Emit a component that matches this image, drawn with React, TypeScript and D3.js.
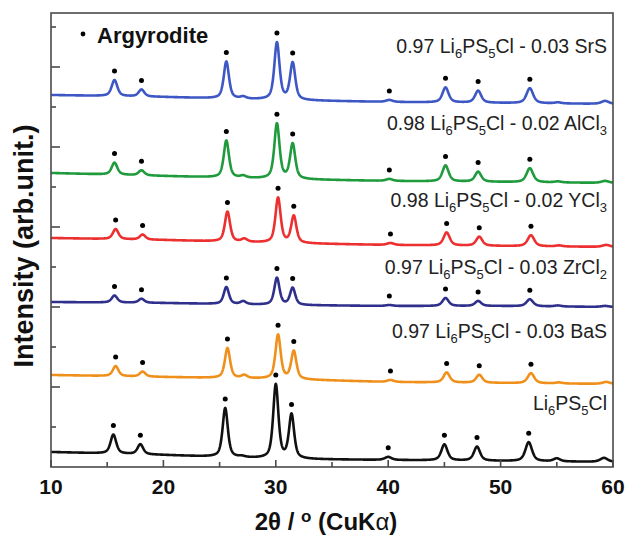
import React from "react";
import * as d3 from "d3";

const W = 627;
const H = 537;
const PLOT = { left: 51, right: 613, top: 13, bottom: 467 };

const xMajorTicks = [10, 20, 30, 40, 50, 60];
const xMinorTicks = [15, 25, 35, 45, 55];
const yTicks = [40, 80, 120, 160, 200, 240, 280, 320, 360, 400, 440];

// Reflection positions (2θ) and widths (FWHM, °)
const peakPositions = [15.55, 17.95, 25.5, 27.0, 30.0, 31.4, 40.0, 45.0, 47.9, 52.5, 55.0, 59.2];
const peakWidths = [0.6, 0.6, 0.55, 0.6, 0.55, 0.55, 0.7, 0.65, 0.65, 0.7, 0.7, 0.8];
const argyroditePeaks = [15.55, 17.95, 25.5, 30.0, 31.4, 40.0, 45.0, 47.9, 52.5];

// Background anchors
const baselineX = [10, 20, 30, 40, 50, 60];

const seriesNames = ["SrS", "AlCl3", "YCl3", "ZrCl2", "BaS", "pure"];
const seriesColors = ["#3d57c4", "#1f9a3c", "#ec2f2f", "#2f2f8c", "#f0901c", "#111111"];
const seriesShift = [0.1, 0.1, 0.2, 0.1, 0.2, 0.0];

const baselineSrS = [372, 370, 367, 365, 364, 363];
const baselineAlCl3 = [294, 291, 288, 286, 285, 284];
const baselineYCl3 = [229, 227, 224, 222, 221, 220];
const baselineZrCl2 = [165, 164, 162, 161, 161, 160];
const baselineBaS = [92, 90, 88, 85, 84, 83];
const baselinePure = [15, 12, 8, 7, 6, 5];

const heightsSrS = [16, 7, 37, 2, 57, 37, 2, 15, 12, 15, 1, 3];
const heightsAlCl3 = [12, 5, 37, 2, 55, 35, 2, 16, 10, 14, 1, 2];
const heightsYCl3 = [10, 5, 30, 3, 45, 27, 2, 13, 9, 11, 1, 2];
const heightsZrCl2 = [7, 4, 17, 3, 27, 17, 1, 8, 5, 7, 1, 1];
const heightsBaS = [10, 5, 30, 3, 44, 28, 2, 10, 8, 10, 1, 2];
const heightsPure = [19, 10, 49, 1, 74, 44, 3, 16, 14, 19, 3, 4];

const baselines = [baselineSrS, baselineAlCl3, baselineYCl3, baselineZrCl2, baselineBaS, baselinePure];
const heights = [heightsSrS, heightsAlCl3, heightsYCl3, heightsZrCl2, heightsBaS, heightsPure];

type LabelPart = { t: string; sub?: boolean };
const labelParts: LabelPart[][] = [
  [{ t: "0.97 Li" }, { t: "6", sub: true }, { t: "PS" }, { t: "5", sub: true }, { t: "Cl - 0.03 SrS" }],
  [{ t: "0.98 Li" }, { t: "6", sub: true }, { t: "PS" }, { t: "5", sub: true }, { t: "Cl - 0.02 AlCl" }, { t: "3", sub: true }],
  [{ t: "0.98 Li" }, { t: "6", sub: true }, { t: "PS" }, { t: "5", sub: true }, { t: "Cl - 0.02 YCl" }, { t: "3", sub: true }],
  [{ t: "0.97 Li" }, { t: "6", sub: true }, { t: "PS" }, { t: "5", sub: true }, { t: "Cl - 0.03 ZrCl" }, { t: "2", sub: true }],
  [{ t: "0.97 Li" }, { t: "6", sub: true }, { t: "PS" }, { t: "5", sub: true }, { t: "Cl - 0.03 BaS" }],
  [{ t: "Li" }, { t: "6", sub: true }, { t: "PS" }, { t: "5", sub: true }, { t: "Cl" }],
];
const labelY = [53, 130, 207, 274, 338, 410];

const FONT = "'Liberation Sans', Arial, Helvetica, sans-serif";

function profile(x: number, c: number, fwhm: number) {
  const hw = fwhm / 2;
  const d = x - c;
  const L = 1 / (1 + (d / hw) * (d / hw));
  const G = Math.exp(-Math.LN2 * (d / hw) * (d / hw));
  return 0.6 * L + 0.4 * G;
}

export default function App() {
  const x = d3.scaleLinear().domain([10, 60]).range([PLOT.left, PLOT.right]);
  const y = d3.scaleLinear().domain([0, PLOT.bottom - PLOT.top]).range([PLOT.bottom, PLOT.top]);
  const xs = d3.range(10, 60.0001, 0.02);

  const curves = seriesNames.map((_, si) => {
    const bg = d3.scaleLinear().domain(baselineX).range(baselines[si]).clamp(true);
    const f = (t: number) => {
      let v = bg(t);
      peakPositions.forEach((p, pi) => {
        v += heights[si][pi] * profile(t, p + seriesShift[si], peakWidths[pi]);
      });
      return v;
    };
    return f;
  });

  const line = d3.line<[number, number]>().x((d) => x(d[0])).y((d) => y(d[1]));

  return (
    <svg width={W} height={H} style={{ display: "block", position: "absolute", left: 0, top: 0 }}>
      <rect x={0} y={0} width={W} height={H} fill="#fff" />
      <defs>
        <clipPath id="clip">
          <rect x={PLOT.left} y={PLOT.top} width={PLOT.right - PLOT.left} height={PLOT.bottom - PLOT.top} />
        </clipPath>
      </defs>
      <g clipPath="url(#clip)">
        {curves.map((f, si) => (
          <path
            key={si}
            d={line(xs.map((t) => [t, f(t)] as [number, number])) || ""}
            fill="none"
            stroke={seriesColors[si]}
            strokeWidth={2.6}
            strokeLinejoin="round"
          />
        ))}
        {curves.map((f, si) =>
          argyroditePeaks.map((p, pi) => {
            const px = p + seriesShift[si];
            return <circle key={si + "-" + pi} cx={x(px)} cy={y(f(px)) - 9} r={2.5} fill="#000" />;
          })
        )}
      </g>
      {/* frame */}
      <rect
        x={PLOT.left}
        y={PLOT.top}
        width={PLOT.right - PLOT.left}
        height={PLOT.bottom - PLOT.top}
        fill="none"
        stroke="#4a4a4a"
        strokeWidth={1.6}
      />
      {/* y ticks */}
      {yTicks.map((v) => {
        const len = (v / 40) % 2 === 0 ? 9 : 5;
        return <line key={v} x1={PLOT.left} x2={PLOT.left + len} y1={y(v)} y2={y(v)} stroke="#4a4a4a" strokeWidth={1.6} />;
      })}
      {/* x ticks */}
      {xMajorTicks.map((v) => (
        <line key={v} x1={x(v)} x2={x(v)} y1={PLOT.bottom} y2={PLOT.bottom - 7} stroke="#4a4a4a" strokeWidth={1.6} />
      ))}
      {xMinorTicks.map((v) => (
        <line key={v} x1={x(v)} x2={x(v)} y1={PLOT.bottom} y2={PLOT.bottom - 5} stroke="#4a4a4a" strokeWidth={1.6} />
      ))}
      {xMajorTicks.map((v) => (
        <text key={v} x={x(v)} y={494} textAnchor="middle" fontFamily={FONT} fontWeight="bold" fontSize={21} fill="#111">
          {v}
        </text>
      ))}
      {/* axis titles */}
      <text x={326} y={530} textAnchor="middle" fontFamily={FONT} fontWeight="bold" fontSize={24} fill="#111">
        2θ / <tspan dy={-8} fontSize={17}>o</tspan>
        <tspan dy={8}> (CuK</tspan>
        <tspan fontWeight="normal">α</tspan>)
      </text>
      <text
        transform={`translate(33, 246) rotate(-90)`}
        textAnchor="middle"
        fontFamily={FONT}
        fontWeight="bold"
        fontSize={27}
        fill="#111"
      >
        Intensity (arb.unit.)
      </text>
      {/* legend */}
      <circle cx={83} cy={34} r={2.4} fill="#000" />
      <text x={97} y={43} fontFamily={FONT} fontWeight="bold" fontSize={22} fill="#111">
        Argyrodite
      </text>
      {/* series labels */}
      {labelParts.map((parts, si) => (
        <text key={si} x={607} y={labelY[si]} textAnchor="end" fontFamily={FONT} fontSize={19.5} fill="#222">
          {parts.map((p, i) => {
            const prevSub = i > 0 && parts[i - 1].sub;
            const dy = p.sub ? 5 : prevSub ? -5 : 0;
            return (
              <tspan key={i} dy={dy} fontSize={p.sub ? 13 : 19.5}>
                {p.t}
              </tspan>
            );
          })}
        </text>
      ))}
    </svg>
  );
}
